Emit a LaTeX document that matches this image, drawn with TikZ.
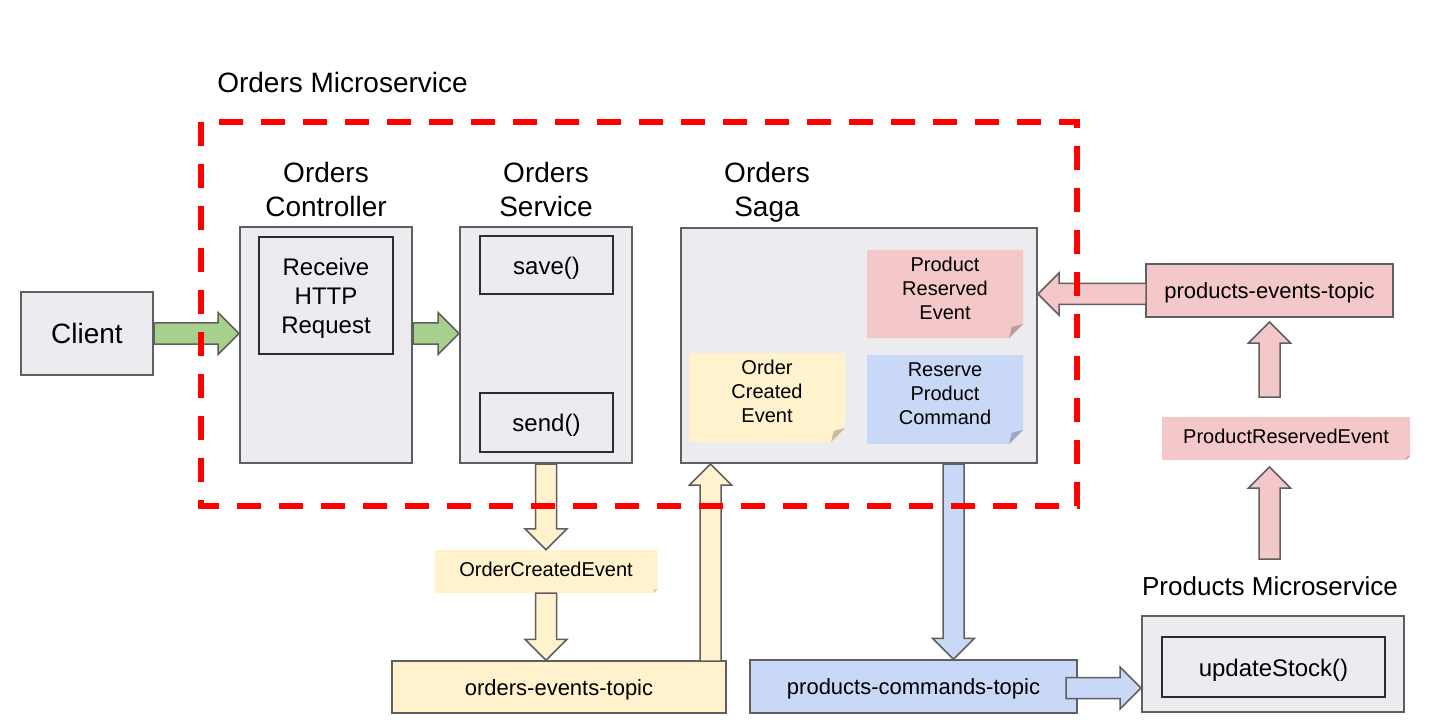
\documentclass[tikz,border=0pt]{standalone}
\usepackage{fontspec}
\setmainfont{Liberation Sans}
\usetikzlibrary{calc}
\definecolor{boxgray}{RGB}{236,235,239}
\definecolor{edgegray}{RGB}{95,95,95}
\definecolor{innerdark}{RGB}{45,45,45}
\definecolor{arrgreen}{RGB}{168,208,141}
\definecolor{stkyellow}{RGB}{255,242,204}
\definecolor{stkpink}{RGB}{244,199,201}
\definecolor{stkblue}{RGB}{201,216,246}
\definecolor{dashred}{RGB}{255,0,0}
\newcommand\lowstrut{\rule[-12pt]{0pt}{12pt}}
\newcommand\highstrut{\rule{0pt}{23.5pt}}
% block arrow from #1 to #2 filled with #3
\newcommand\blockarr[3]{%
  \coordinate (bahead) at ($(#2)!21pt!(#1)$);
  \draw[blockline, fill=#3]
    ($(#1)!10.5pt!90:(#2)$) -- ($(bahead)!10.5pt!90:(#2)$) -- ($(bahead)!21pt!90:(#2)$)
    -- (#2) -- ($(bahead)!21pt!-90:(#2)$) -- ($(bahead)!10.5pt!-90:(#2)$)
    -- ($(#1)!10.5pt!-90:(#2)$) -- cycle;}
\begin{document}
\begin{tikzpicture}[x=1pt,y=-1pt,
  outerbox/.style={draw=edgegray, line width=2pt, fill=boxgray, inner sep=0pt, align=center},
  innerbox/.style={draw=innerdark, line width=2pt, fill=boxgray, inner sep=0pt, align=center},
  methodtext/.style={font=\fontsize{24}{29}\selectfont, text height=23.5pt, text depth=5pt},
  topicbox/.style={draw=edgegray, line width=1.5pt, inner sep=0pt, font=\fontsize{22}{26}\selectfont,
    text height=21pt, text depth=4.6pt},
  stickynote/.style n args={2}{inner sep=0pt, align=center, font=\fontsize{20}{24}\selectfont,
    path picture={
      \fill[#1] (path picture bounding box.north west) -- (path picture bounding box.north east)
        -- ([yshift=#2pt]path picture bounding box.south east)
        -- ([xshift=-#2pt]path picture bounding box.south east)
        -- (path picture bounding box.south west) -- cycle;
      \fill[#1!78!black] ([yshift=#2pt]path picture bounding box.south east)
        -- ([xshift=-#2pt]path picture bounding box.south east)
        -- ([xshift={-0.8*#2pt},yshift={0.8*#2pt}]path picture bounding box.south east) -- cycle;}},
  labeltext/.style={text height=14.5pt, text depth=4pt},
  titletext/.style={inner sep=0pt, align=center, font=\fontsize{28}{34}\selectfont},
  blockline/.style={draw=edgegray, line width=1.5pt, line join=miter},
  redbox/.style={draw=dashred, line width=6pt, dash pattern=on 24pt off 18pt}
]
\fill[white] (0,0) rectangle (1443,727);
\useasboundingbox (0,0) rectangle (1443,727);

% titles
\node[titletext] (omtitle) at (342.5,82) {Orders Microservice};
\node[titletext] (ctrlt) at (326,189) {Orders\\Controller};
\node[titletext] (svct) at (546,189) {Orders\\Service};
\node[titletext] (sagat) at (767,192) {Orders\\Saga};
\node[inner sep=0pt, font=\fontsize{26}{30}\selectfont] (pmtitle) at (1270,586) {Products Microservice};

% client
\node[outerbox, minimum width=132pt, minimum height=83pt, font=\fontsize{28}{34}\selectfont] (client) at (87,333.5) {Client};

% controller
\node[outerbox, minimum width=172pt, minimum height=236pt] (ctrl) at (326,345) {};
\node[innerbox, minimum width=134pt, minimum height=117pt, font=\fontsize{24}{29}\selectfont] (recv) at (326,295.5) {\highstrut Receive\\HTTP\\Request};

% service
\node[outerbox, minimum width=172pt, minimum height=236pt] (svc) at (546,345) {};
\node[innerbox, methodtext, minimum width=133pt, minimum height=58pt] (save) at (546.5,265) {save()};
\node[innerbox, methodtext, minimum width=133pt, minimum height=59pt] (send) at (546.5,422.5) {send()};

% saga
\node[outerbox, minimum width=356pt, minimum height=235pt] (saga) at (859,345.5) {};
\node[stickynote={stkpink}{14}, minimum width=156pt, minimum height=88pt] (pre) at (945,294) {Product\\Reserved\\Event\lowstrut};
\node[stickynote={stkyellow}{14}, minimum width=156pt, minimum height=89pt] (oce) at (767,397.5) {Order\\Created\\Event\lowstrut};
\node[stickynote={stkblue}{14}, minimum width=156pt, minimum height=89pt] (rpc) at (945,399.5) {Reserve\\Product\\Command\lowstrut};

% topics and labels
\node[topicbox, fill=stkyellow, minimum width=334pt, minimum height=52pt] (oet) at (559,687) {orders-events-topic};
\node[topicbox, fill=stkblue, minimum width=327pt, minimum height=53pt] (pct) at (913.5,686.5) {products-commands-topic};
\node[topicbox, fill=stkpink, minimum width=247pt, minimum height=53pt] (pet) at (1269.5,290.5) {products-events-topic};
\node[stickynote={stkyellow}{4}, labeltext, minimum width=223pt, minimum height=43pt] (ocel) at (546,571.5) {OrderCreatedEvent};
\node[stickynote={stkpink}{4}, labeltext, minimum width=248pt, minimum height=43pt] (prel) at (1286,438.5) {ProductReservedEvent};

% products microservice
\node[outerbox, minimum width=262pt, minimum height=96pt] (pms) at (1273,664) {};
\node[innerbox, methodtext, minimum width=223pt, minimum height=60pt] (upd) at (1273.5,667) {updateStock()};

% connector end points
\coordinate (g1e) at (ctrl.west |- client.east);
\coordinate (g2s) at (ctrl.east |- client.east);
\coordinate (g2e) at (svc.west |- client.east);
\coordinate (y2e) at (ocel.south |- oet.north);
\coordinate (ua) at (710.5,661);
\coordinate (ua2) at (saga.south -| ua);
\coordinate (bx) at (953.5,0);
\coordinate (b1s) at (saga.south -| bx);
\coordinate (b1e) at (pct.north -| bx);
\coordinate (b2s) at (1066,688);
\coordinate (b2e) at (pms.west |- b2s);
\coordinate (p1s) at (1146,294);
\coordinate (p1e) at (saga.east |- p1s);
\coordinate (p2s) at (1269.5,397);
\coordinate (p2e) at (1269.5,322);
\coordinate (p3s) at (1269.5,559);
\coordinate (p3e) at (1269.5,467);

% block arrows
\blockarr{client.east}{g1e}{arrgreen}
\blockarr{g2s}{g2e}{arrgreen}
\blockarr{svc.south}{ocel.north}{stkyellow}
\blockarr{ocel.south}{y2e}{stkyellow}
\blockarr{ua}{ua2}{stkyellow}
\blockarr{b1s}{b1e}{stkblue}
\blockarr{b2s}{b2e}{stkblue}
\blockarr{p1s}{p1e}{stkpink}
\blockarr{p2s}{p2e}{stkpink}
\blockarr{p3s}{p3e}{stkpink}

% microservice boundary
\draw[redbox] (201,122) rectangle (1077,506);
\end{tikzpicture}
\end{document}
